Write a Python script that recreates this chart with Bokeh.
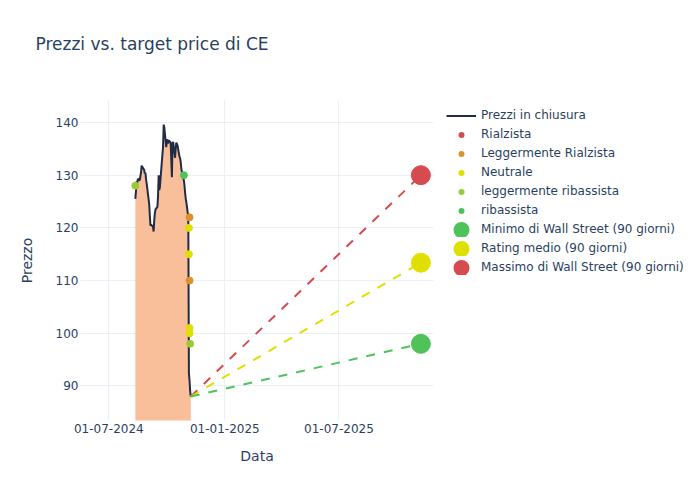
import pandas as pd
from bokeh.plotting import figure
from bokeh.models import (ColumnDataSource, Range1d, FixedTicker, DatetimeTickFormatter,
                          Legend, LegendItem, Title)
from bokeh.embed import file_html
from bokeh.resources import INLINE

# ---------------- data ----------------
trade_dates = [
    "2024-08-12", "2024-08-13", "2024-08-14", "2024-08-15", "2024-08-16",
    "2024-08-19", "2024-08-20", "2024-08-21", "2024-08-22", "2024-08-23",
    "2024-08-26", "2024-08-27", "2024-08-28", "2024-08-29", "2024-08-30",
    "2024-09-03", "2024-09-04", "2024-09-05", "2024-09-06",
    "2024-09-09", "2024-09-10", "2024-09-11", "2024-09-12", "2024-09-13",
    "2024-09-16", "2024-09-17", "2024-09-18", "2024-09-19", "2024-09-20",
    "2024-09-23", "2024-09-24", "2024-09-25", "2024-09-26", "2024-09-27",
    "2024-09-30", "2024-10-01", "2024-10-02", "2024-10-03", "2024-10-04",
    "2024-10-07", "2024-10-08", "2024-10-09", "2024-10-10", "2024-10-11",
    "2024-10-14", "2024-10-15", "2024-10-16", "2024-10-17", "2024-10-18",
    "2024-10-21", "2024-10-22", "2024-10-23", "2024-10-24", "2024-10-25",
    "2024-10-28", "2024-10-29", "2024-10-30", "2024-10-31", "2024-11-01",
    "2024-11-04", "2024-11-05", "2024-11-06", "2024-11-07", "2024-11-08",
]
close_prices = [
    125.5, 127.0, 128.8, 128.5, 129.3,
    129.0, 129.8, 130.5, 131.8, 131.6,
    131.0, 130.3, 130.5, 129.2, 128.4,
    124.5, 122.3, 120.4, 120.6,
    120.2, 119.3, 121.5, 122.8, 123.5,
    124.0, 126.0, 130.0, 127.2, 127.8,
    132.5, 134.0, 135.5, 139.6, 139.0,
    135.3, 136.5, 136.8, 136.0, 136.6,
    136.2, 133.0, 129.6, 136.0, 136.3,
    133.3, 135.0, 136.2, 135.9, 135.6,
    133.5, 133.2, 132.5, 131.2, 130.5,
    129.0, 128.0, 126.6, 125.5, 124.8,
    122.0, 92.3, 91.0, 89.0, 88.0,
]

rialzista_dates = []
rialzista_vals = []
legg_rialzista_dates = ["2024-11-06", "2024-11-06"]
legg_rialzista_vals = [122, 110]
neutrale_dates = ["2024-11-05", "2024-11-05", "2024-11-06", "2024-11-06"]
neutrale_vals = [120, 115, 101, 100]
legg_ribassista_dates = ["2024-08-12", "2024-11-07"]
legg_ribassista_vals = [128, 98]
ribassista_dates = ["2024-10-28"]
ribassista_vals = [130]

target_date = "2025-11-08"
target_min = 98.0
target_avg = 113.4
target_max = 130.0

x_ticks = ["2024-07-01", "2025-01-01", "2025-07-01"]
y_ticks = [90, 100, 110, 120, 130, 140]

# ---------------- styles ----------------
TXT = "#2a3f5f"
FONT = "DejaVu Sans"
GRID = "#ebf0f8"
C_LINE = "#222b45"
C_FILL = "#f9bf9b"
C_RED = "#d64b50"
C_ORANGE = "#e0902a"
C_YELLOW = "#e0e000"
C_LGREEN = "#99cc33"
C_GREEN = "#4fc35a"

def dt(s):
    return pd.to_datetime(s)

p = figure(frame_width=353, frame_height=320, output_backend="svg", toolbar_location=None,
           title=None, x_axis_type="datetime",
           x_range=Range1d(dt("2024-05-17"), dt("2025-11-28")),
           y_range=Range1d(83.45, 144.17),
           min_border_left=80, min_border_right=0,
           min_border_top=100, min_border_bottom=80)

# spacer (nearest to the frame) then the real title above it
p.add_layout(Title(text=" ", text_font_size="1px", standoff=39), "above")
p.add_layout(Title(text="Prezzi vs. target price di CE", text_font=FONT,
                   text_font_size="17px", text_font_style="normal", text_color=TXT,
                   offset=-45, standoff=10), "above")

p.outline_line_color = None
p.background_fill_color = "white"
p.border_fill_color = "white"

# axes
for ax in (p.xaxis[0], p.yaxis[0]):
    ax.axis_line_color = None
    ax.major_tick_line_color = None
    ax.minor_tick_line_color = None
    ax.major_tick_out = 0
    ax.major_tick_in = 0
    ax.minor_tick_out = 0
    ax.minor_tick_in = 0
    ax.major_label_text_font = FONT
    ax.major_label_text_font_size = "12px"
    ax.major_label_text_color = TXT
    ax.axis_label_text_font = FONT
    ax.axis_label_text_font_size = "14px"
    ax.axis_label_text_font_style = "normal"
    ax.axis_label_text_color = TXT

p.xaxis.axis_label = "Data"
p.yaxis.axis_label = "Prezzo"
p.xaxis.ticker = FixedTicker(ticks=[dt(t).value // 10**6 for t in x_ticks])
fmt = "%d-%m-%Y"
p.xaxis.formatter = DatetimeTickFormatter(
    milliseconds=fmt, seconds=fmt, minsec=fmt, minutes=fmt, hourmin=fmt,
    hours=fmt, days=fmt, months=fmt, years=fmt)
p.yaxis.ticker = FixedTicker(ticks=y_ticks)
p.xaxis.major_label_standoff = 3
p.yaxis.major_label_standoff = 2
p.xaxis.axis_label_standoff = 12
p.yaxis.axis_label_standoff = 18

p.xgrid.grid_line_color = GRID
p.ygrid.grid_line_color = GRID
p.xgrid.ticker = p.xaxis.ticker
p.ygrid.ticker = p.yaxis.ticker

# price area + line
src = ColumnDataSource(dict(x=[dt(d) for d in trade_dates], y=close_prices,
                            y0=[0] * len(close_prices)))
p.varea(x="x", y1="y0", y2="y", source=src, fill_color=C_FILL, fill_alpha=1.0)
r_line = p.line(x="x", y="y", source=src, line_color=C_LINE, line_width=2)

# dashed projections
last_d = dt(trade_dates[-1])
last_p = close_prices[-1]
for tv, col in ((target_max, C_RED), (target_avg, C_YELLOW), (target_min, C_GREEN)):
    p.line(x=[last_d, dt(target_date)], y=[last_p, tv], line_color=col,
           line_width=2, line_dash="9 9")

# rating points
def pts(dates, vals, col):
    s = ColumnDataSource(dict(x=[dt(d) for d in dates], y=vals))
    p.scatter(x="x", y="y", source=s, size=7, fill_color=col, line_color=col)

pts(rialzista_dates, rialzista_vals, C_RED)
pts(legg_rialzista_dates, legg_rialzista_vals, C_ORANGE)
pts(neutrale_dates, neutrale_vals, C_YELLOW)
pts(legg_ribassista_dates, legg_ribassista_vals, C_LGREEN)
pts(ribassista_dates, ribassista_vals, C_GREEN)

# target markers
for tv, col in ((target_min, C_GREEN), (target_avg, C_YELLOW), (target_max, C_RED)):
    p.scatter(x=[dt(target_date)], y=[tv], size=19, fill_color=col, line_color=col)

# legend-only renderers (one point placed outside the visible range);
# legend icons get a fixed size, so the big ones are enlarged via their outline
def leg(col, lw):
    s = ColumnDataSource(dict(x=[dt("2000-01-01")], y=[0]))
    if lw == 0:
        return p.scatter(x="x", y="y", source=s, size=6, fill_color=col, line_color=None)
    return p.scatter(x="x", y="y", source=s, size=6, fill_color=col, line_color=col,
                     line_width=lw)

items = [
    LegendItem(label="Prezzi in chiusura", renderers=[r_line]),
    LegendItem(label="Rialzista", renderers=[leg(C_RED, 0)]),
    LegendItem(label="Leggermente Rialzista", renderers=[leg(C_ORANGE, 0)]),
    LegendItem(label="Neutrale", renderers=[leg(C_YELLOW, 0)]),
    LegendItem(label="leggermente ribassista", renderers=[leg(C_LGREEN, 0)]),
    LegendItem(label="ribassista", renderers=[leg(C_GREEN, 0)]),
    LegendItem(label="Minimo di Wall Street (90 giorni)", renderers=[leg(C_GREEN, 10)]),
    LegendItem(label="Rating medio (90 giorni)", renderers=[leg(C_YELLOW, 10)]),
    LegendItem(label="Massimo di Wall Street (90 giorni)", renderers=[leg(C_RED, 10)]),
]
legend = Legend(items=items, location=(13, 145.5), padding=0, margin=0, spacing=4,
                glyph_width=30, glyph_height=15, label_height=15, label_standoff=5,
                label_text_font=FONT, label_text_font_size="12px", label_text_color=TXT,
                border_line_color=None, background_fill_alpha=0)
p.add_layout(legend, "right")

open("out.html", "w").write(file_html(p, INLINE))
